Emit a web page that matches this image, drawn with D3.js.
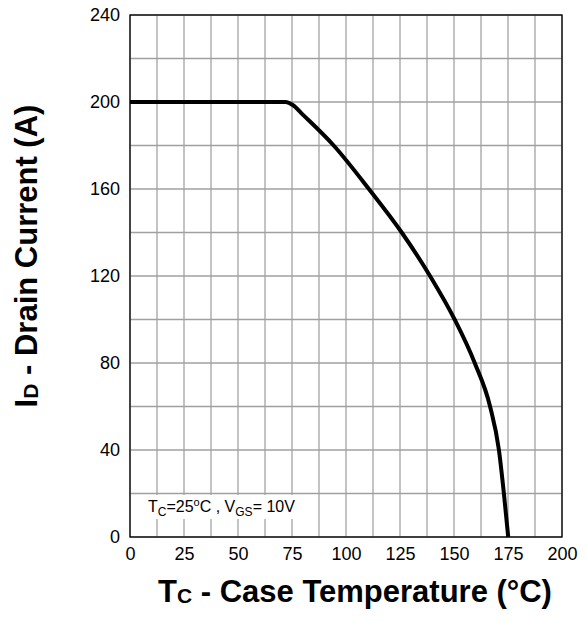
<!DOCTYPE html>
<html><head><meta charset="utf-8">
<script src="https://cdn.jsdelivr.net/npm/d3@7"></script>
<style>body{margin:0;background:#fff}svg{display:block}text{font-family:Arial,"Liberation Sans",sans-serif}</style>
</head><body>
<script>
const temps =   [0, 72, 75.5, 80, 94.3, 110.6, 125.8, 138.9, 150.3, 159.6, 166.7, 170.8, 173.1, 175.1];
const current = [200, 200, 198.5, 194.2, 180, 160, 140, 120, 100, 80, 60, 40, 20, 0];
const xTicks = [0, 25, 50, 75, 100, 125, 150, 175, 200];
const yTicks = [0, 40, 80, 120, 160, 200, 240];
const xGrid = d3.range(0, 200.1, 12.5);
const yGrid = d3.range(0, 240.1, 20);

const W = 588, H = 621;
const L = 130, R = 562, T = 15, B = 537;
const svg = d3.select("body").append("svg").attr("width", W).attr("height", H);
const x = d3.scaleLinear().domain([0, 200]).range([L, R]);
const y = d3.scaleLinear().domain([0, 240]).range([B, T]);

svg.append("g").selectAll("line").data(xGrid).join("line")
  .attr("x1", d => x(d)).attr("x2", d => x(d)).attr("y1", T).attr("y2", B)
  .attr("stroke", "#b4b4b4").attr("stroke-width", 1.6);
svg.append("g").selectAll("line").data(yGrid).join("line")
  .attr("x1", L).attr("x2", R).attr("y1", d => y(d)).attr("y2", d => y(d))
  .attr("stroke", "#a0a0a0").attr("stroke-width", 1.4);

// annotation background
svg.append("rect").attr("x", L + 1).attr("y", y(20) + 1.5).attr("width", 175).attr("height", 24).attr("fill", "#fff");

svg.append("rect").attr("x", L).attr("y", T).attr("width", R - L).attr("height", B - T)
  .attr("fill", "none").attr("stroke", "#000").attr("stroke-width", 1.3);

const line = d3.line().x((d, i) => x(temps[i])).y(d => y(d)).curve(d3.curveMonotoneX);
svg.append("path").datum(current).attr("d", line).attr("fill", "none")
  .attr("stroke", "#000").attr("stroke-width", 4).attr("stroke-linejoin", "round");

const xAxis = d3.axisBottom(x).tickValues(xTicks).tickSize(0).tickPadding(10);
const gx = svg.append("g").attr("transform", `translate(0,${B})`).call(xAxis);
gx.select(".domain").remove();
gx.selectAll("text").attr("font-size", 18).attr("fill", "#000").attr("font-family", "Arial, 'Liberation Sans', sans-serif");

const yAxis = d3.axisLeft(y).tickValues(yTicks).tickSize(0).tickPadding(10);
const gy = svg.append("g").attr("transform", `translate(${L},0)`).call(yAxis);
gy.select(".domain").remove();
gy.selectAll("text").attr("font-size", 18).attr("fill", "#000").attr("font-family", "Arial, 'Liberation Sans', sans-serif");

// annotation
const ann = svg.append("text").attr("x", 148).attr("y", 512).attr("font-size", 16).attr("fill", "#000");
ann.append("tspan").text("T");
ann.append("tspan").text("C").attr("font-size", 12).attr("dy", 4);
ann.append("tspan").text("=25").attr("dy", -4);
ann.append("tspan").text("o").attr("font-size", 11).attr("dy", -6);
ann.append("tspan").text("C , V").attr("dy", 6);
ann.append("tspan").text("GS").attr("font-size", 12).attr("dy", 4);
ann.append("tspan").text("= 10V").attr("dy", -4);

// x title
const xt = svg.append("text").attr("x", 355).attr("y", 602).attr("text-anchor", "middle")
  .attr("font-size", 31).attr("font-weight", "bold").attr("fill", "#000");
xt.append("tspan").text("T");
xt.append("tspan").text("C").attr("font-size", 21).attr("dy", 1);
xt.append("tspan").text(" - Case Temperature (°C)").attr("dy", -1);

// y title
const yt = svg.append("text").attr("transform", "translate(37,256) rotate(-90)").attr("text-anchor", "middle")
  .attr("font-size", 31).attr("font-weight", "bold").attr("fill", "#000");
yt.append("tspan").text("I");
yt.append("tspan").text("D").attr("font-size", 21).attr("dy", 1);
yt.append("tspan").text(" - Drain Current (A)").attr("dy", -1);
</script>
</body></html>
